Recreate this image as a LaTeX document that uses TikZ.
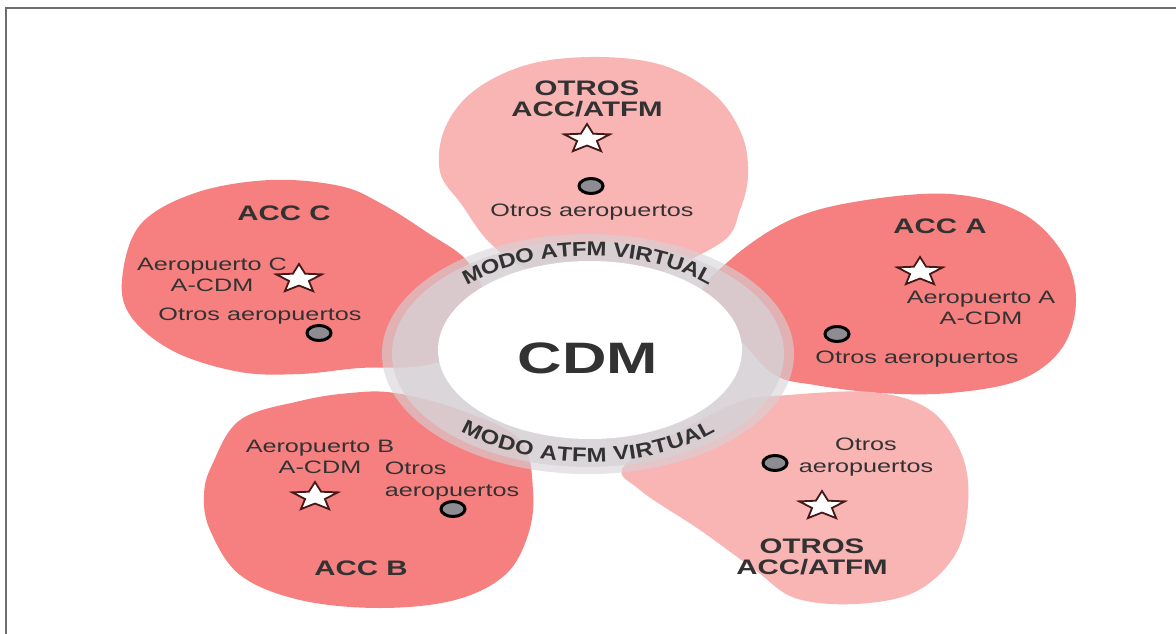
\documentclass[tikz,border=0pt]{standalone}
\usepackage{fontspec}
\setmainfont{Liberation Sans}
\newfontfamily\widefont[FakeStretch=1.4]{Liberation Sans}
\newfontfamily\ringfont[FakeStretch=1.2]{Liberation Sans}
\usetikzlibrary{shapes.geometric,decorations.text}

\definecolor{petalred}{RGB}{246,128,128}
\definecolor{petallight}{RGB}{249,180,180}
\definecolor{ringgray}{RGB}{214,210,214}
\definecolor{txt}{RGB}{50,50,50}
\definecolor{framecol}{RGB}{110,110,110}
\definecolor{starline}{RGB}{70,25,25}
\definecolor{dotgray}{RGB}{140,140,146}

\tikzset{
  lbl/.style={font=\widefont\fontsize{18}{21.5}\selectfont, text=txt, inner sep=0pt, align=center},
  blbl/.style={font=\widefont\bfseries\fontsize{21}{21.5}\selectfont, text=txt, inner sep=0pt, align=center},
  starmark/.style={star, star points=5, star point ratio=2.3, minimum size=30pt, inner sep=0pt,
    xscale=1.6, draw=starline, line width=1.8pt, fill=white},
  dotmark/.style={ellipse, minimum width=24pt, minimum height=15pt, inner sep=0pt,
    draw=black, line width=3pt, fill=dotgray},
  ringtext/.style={decorate, decoration={text along path, text align=center, raise=-7pt,
    text color=txt, text={|\ringfont\bfseries\fontsize{20}{20}\selectfont|MODO ATFM VIRTUAL}}},
}

\begin{document}
\begin{tikzpicture}[x=1pt,y=-1pt]
\useasboundingbox (0,0) rectangle (1176,634);
\fill[white] (0,0) rectangle (1176,634);

% frame
\draw[framecol, line width=2pt] (5,8.5) -- (1176,8.5);
\draw[framecol, line width=2pt] (6,8.5) -- (6,634);

% petals
\fill[petallight] plot[smooth cycle, tension=0.6] coordinates {(600,57) (665,66) (715,95) (742,135) (748,175) (740,210) (722,242) (650,275) (590,280) (530,270) (490,243) (462,205) (440,172) (445,128) (475,90) (530,64)};
\fill[petalred] plot[smooth cycle, tension=0.6] coordinates {(730,260) (790,220) (860,201) (950,194) (1020,212) (1062,252) (1076,300) (1062,348) (1020,380) (950,393) (880,393) (815,385) (775,375) (740,340) (700,300)};
\fill[petallight] plot[smooth cycle, tension=0.6] coordinates {(775,396) (870,392) (930,410) (962,455) (968,505) (955,555) (915,592) (855,604) (795,598) (755,570) (700,530) (640,490) (625,465) (700,420) (745,400)};
\fill[petalred] plot[smooth cycle, tension=0.6] coordinates {(212,465) (240,420) (300,401) (350,393) (395,393) (460,410) (520,440) (533,490) (528,535) (505,575) (455,600) (380,608) (300,600) (240,575) (210,530) (204,495)};
\fill[petalred] plot[smooth cycle, tension=0.6] coordinates {(122,280) (140,225) (195,193) (270,180) (340,186) (382,204) (428,233) (468,262) (485,305) (465,350) (420,366) (360,368) (300,374) (240,372) (175,352) (132,318)};

% ring
\fill[ringgray, opacity=0.6] (588,354) ellipse [x radius=206, y radius=120];
\fill[ringgray, opacity=0.75] (588,354) ellipse [x radius=196, y radius=113];
\fill[white] (590,350) ellipse [x radius=152, y radius=89];

\path[ringtext] plot[domain=160:20, samples=90] ({588+176*cos(\x)},{352-103*sin(\x)});
\path[ringtext] plot[domain=200:340, samples=90] ({588+176*cos(\x)},{352-103*sin(\x)});

\node[font=\widefont\bfseries\fontsize{44}{48}\selectfont, text=txt, inner sep=0pt, anchor=base] (cdm) at (588,373) {CDM};

% top petal
\node[blbl] (topTitle) at (587,99) {OTROS\\ACC/ATFM};
\node[starmark] (topStar) at (587,139) {};
\node[dotmark] (topDot) at (591,186) {};
\node[lbl, anchor=base] (topOther) at (592,216) {Otros aeropuertos};

% ACC C
\node[blbl, anchor=base] (accC) at (284,220) {ACC C};
\node[lbl] (aeroC) at (212,275) {Aeropuerto C\\A-CDM};
\node[starmark] (starC) at (299,279) {};
\node[lbl, anchor=base] (otherC) at (260,320) {Otros aeropuertos};
\node[dotmark] (dotC) at (319,333) {};

% ACC A
\node[blbl, anchor=base] (accA) at (940,233) {ACC A};
\node[starmark] (starA) at (920,272) {};
\node[lbl] (aeroA) at (981,308) {Aeropuerto A\\A-CDM};
\node[dotmark] (dotA) at (837,334) {};
\node[lbl, anchor=base] (otherA) at (917,363) {Otros aeropuertos};

% bottom right
\node[lbl] (otherBR) at (866,457) {Otros\\aeropuertos};
\node[dotmark] (dotBR) at (775,463) {};
\node[starmark] (starBR) at (822,506) {};
\node[blbl] (titleBR) at (812,557) {OTROS\\ACC/ATFM};

% ACC B
\node[lbl] (aeroB) at (320,457) {Aeropuerto B\\A-CDM};
\node[starmark] (starB) at (315,497) {};
\node[lbl, align=left] (otherB) at (452,481) {Otros\\aeropuertos};
\node[dotmark] (dotB) at (453,509) {};
\node[blbl, anchor=base] (accB) at (361,575) {ACC B};
\end{tikzpicture}
\end{document}
